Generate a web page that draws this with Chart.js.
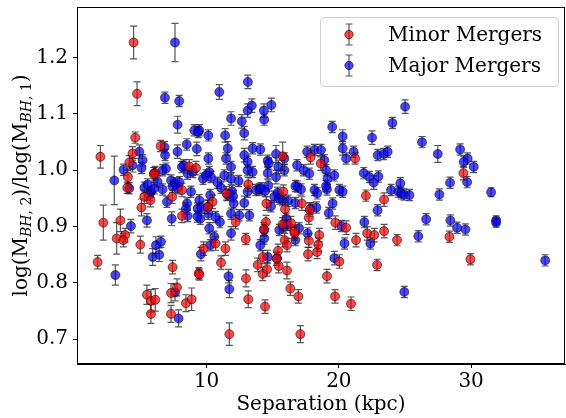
<!DOCTYPE html>
<html><head><meta charset="utf-8">
<script src="https://cdn.jsdelivr.net/npm/chart.js@4.4.1/dist/chart.umd.min.js"></script>
<style>html,body{margin:0;padding:0;background:#fff;overflow:hidden}</style>
</head><body>
<canvas id="c" width="566" height="418"></canvas>
<script>
const seriesNames = ['Minor Mergers', 'Major Mergers'];
const xTicks = [10, 20, 30];
const yTicks = [0.7, 0.8, 0.9, 1.0, 1.1, 1.2];
const xTitle = 'Separation (kpc)';

const minorSep = [4.48,4.74,4.6,1.97,4.4,4.16,4.05,4.0,2.19,3.48,
3.2,3.84,3.7,1.76,4.99,5.07,5.29,5.75,6.52,7.4,
5.49,5.79,6.12,5.79,7.31,7.31,7.43,7.76,8.44,8.87,
9.4,9.45,8.14,8.14,8.69,9.2,9.78,10.45,10.68,11.09,
11.42,11.5,11.72,12.2,12.96,12.98,13.15,13.15,13.86,14.24,
14.25,14.42,14.57,14.52,14.49,15.4,15.45,15.75,15.9,15.93,
16.08,16.08,16.33,15.75,15.8,16.66,16.94,17.09,17.2,17.73,
17.67,17.73,17.86,18.36,18.44,18.52,18.63,19.1,19.71,19.73,
20.04,20.55,20.92,21.23,21.3,22.05,22.14,22.68,22.89,23.42,
23.42,24.4,28.36,29.42,29.95,6.12,16.38,16.63,6.0,10.1,
14.33,15.3,17.8];
const minorRatio = [1.227,1.136,1.058,1.024,1.03,1.014,0.988,0.969,0.907,0.911,
0.879,0.885,0.876,0.837,0.868,0.934,0.953,0.947,1.043,0.953,
0.779,0.768,0.77,0.745,0.782,0.745,0.828,0.792,0.764,0.771,
0.817,0.815,0.919,0.965,1.007,1.004,0.861,0.944,0.87,0.836,
0.861,0.959,0.709,0.908,0.878,0.808,0.771,0.975,0.832,0.816,
0.846,0.758,0.824,0.941,0.908,0.857,0.83,0.904,0.876,0.931,
0.867,0.822,0.79,1.025,0.962,0.888,0.776,0.709,0.941,0.916,
0.851,0.875,1.023,0.855,0.868,0.885,1.012,0.812,0.776,0.907,
0.838,0.898,0.763,1.021,0.876,0.955,0.888,0.885,0.832,0.948,
0.892,0.876,0.882,0.995,0.842,0.995,0.906,0.891,0.993,0.935,
0.895,0.843,0.93];
const minorErr = [0.029,0.021,0.01,0.02,0.012,0.012,0.012,0.01,0.031,0.02,
0.028,0.012,0.012,0.012,0.015,0.015,0.012,0.012,0.01,0.012,
0.017,0.02,0.02,0.017,0.017,0.015,0.012,0.015,0.015,0.02,
0.01,0.01,0.012,0.012,0.012,0.012,0.012,0.012,0.012,0.012,
0.012,0.012,0.02,0.012,0.01,0.015,0.015,0.012,0.012,0.012,
0.012,0.012,0.012,0.012,0.012,0.012,0.012,0.012,0.012,0.012,
0.012,0.015,0.012,0.025,0.012,0.012,0.012,0.015,0.012,0.012,
0.012,0.012,0.012,0.012,0.012,0.012,0.012,0.012,0.012,0.012,
0.012,0.012,0.012,0.01,0.012,0.01,0.012,0.012,0.01,0.012,
0.012,0.01,0.01,0.012,0.01,0.012,0.012,0.012,0.012,0.012,
0.012,0.012,0.012];

const majorSep = [3.02,3.1,3.72,4.15,4.28,4.4,4.91,5.16,5.08,5.49,
5.29,5.54,5.8,5.67,6.04,6.29,6.04,6.67,6.93,6.82,
6.86,6.85,6.67,7.0,6.17,6.55,5.92,6.42,7.31,7.61,
7.43,7.81,7.36,7.61,7.93,7.81,7.8,7.95,8.13,8.27,
8.56,8.82,8.52,8.44,8.56,8.5,8.96,7.61,7.88,9.07,
9.45,9.37,9.26,9.32,9.45,9.52,9.3,9.59,9.73,9.95,
10.13,10.13,10.2,10.33,10.08,10.13,10.27,10.2,10.58,10.28,
9.57,10.82,10.68,11.01,10.96,11.09,11.34,11.47,11.6,11.4,
11.6,11.85,11.85,11.85,11.85,11.85,11.66,11.72,11.92,12.0,
12.05,12.47,12.42,12.66,12.85,12.85,12.85,13.12,13.1,13.42,
13.1,13.1,13.48,13.48,13.1,13.23,13.74,13.99,14.11,14.06,
14.33,14.35,14.9,14.42,14.62,14.7,14.62,14.66,14.87,14.36,
14.36,14.06,14.62,15.25,15.25,15.42,15.88,15.88,15.12,15.37,
15.5,15.75,15.5,15.82,16.13,15.32,16.03,16.16,16.71,16.84,
16.71,16.88,17.14,16.71,16.99,17.34,17.77,17.6,18.16,18.65,
18.9,19.03,19.15,19.66,18.16,18.36,17.85,18.3,17.64,19.1,
19.03,19.23,19.53,19.5,19.66,20.29,20.29,20.55,20.29,20.04,
20.19,20.43,21.12,21.88,21.93,22.31,22.63,22.99,22.51,22.94,
23.39,23.69,22.93,22.38,23.95,24.05,24.5,24.65,24.71,24.93,
25.34,25.01,24.95,26.29,27.48,29.17,29.74,29.44,30.2,29.7,
28.41,27.6,31.51,26.6,26.01,28.43,28.94,29.57,31.89,31.89,35.6];
const majorRatio = [0.982,0.814,1.001,0.968,0.901,1.009,1.033,1.018,1.004,0.911,
0.969,0.975,0.962,0.956,0.968,0.98,0.995,1.0,1.003,1.041,
1.027,1.129,0.966,0.944,0.867,0.873,0.846,0.85,0.982,0.977,
0.971,0.968,0.914,1.227,1.123,1.081,1.033,0.979,1.006,1.009,
0.994,0.962,0.941,0.932,0.919,1.046,0.997,0.783,0.737,1.071,
1.071,1.068,1.038,0.932,0.947,0.914,0.918,0.934,0.985,0.991,
1.062,1.021,0.997,0.988,0.935,0.923,0.956,0.897,0.882,0.867,
0.851,0.978,0.917,0.908,1.139,0.969,0.991,1.021,1.039,1.062,
0.956,1.092,1.006,0.985,0.923,0.888,0.812,0.789,0.963,0.954,
0.941,0.92,0.981,1.087,1.066,1.027,0.942,1.157,1.106,1.115,
1.015,1.0,0.997,1.039,0.962,0.92,0.965,0.966,0.968,1.037,
1.106,1.09,1.116,0.963,1.017,1.012,0.995,0.973,0.936,0.894,
0.879,0.867,0.846,1.029,0.988,1.006,1.021,1.0,0.953,0.96,
0.95,0.947,0.894,0.9,0.903,0.844,0.914,0.946,0.876,1.009,
0.972,0.971,0.966,0.942,0.897,1.0,0.994,1.033,1.036,1.036,
1.018,1.0,0.985,0.991,0.965,0.959,0.932,0.934,0.888,0.966,
0.972,0.924,0.941,1.077,0.844,1.06,1.039,1.021,0.962,0.965,
0.901,0.87,1.033,0.995,0.908,0.988,0.978,0.989,1.058,1.027,
1.029,1.033,0.929,0.87,0.965,1.084,0.962,0.977,0.959,0.957,
0.956,1.113,0.784,1.05,1.029,1.037,1.021,1.015,1.006,0.979,
0.978,0.957,0.961,0.913,0.883,0.911,0.898,0.895,0.911,0.907,0.84];
const majorErr = [0.043,0.018,0.01,0.01,0.012,0.012,0.012,0.01,0.01,0.012,
0.01,0.01,0.01,0.01,0.01,0.01,0.01,0.01,0.01,0.01,
0.01,0.01,0.01,0.01,0.015,0.01,0.015,0.012,0.01,0.01,
0.01,0.01,0.012,0.034,0.01,0.015,0.012,0.01,0.01,0.01,
0.01,0.01,0.01,0.01,0.01,0.01,0.01,0.015,0.015,0.01,
0.01,0.01,0.012,0.01,0.01,0.01,0.01,0.01,0.01,0.01,
0.01,0.01,0.01,0.01,0.012,0.01,0.01,0.01,0.01,0.01,
0.012,0.01,0.01,0.01,0.013,0.01,0.01,0.01,0.012,0.012,
0.01,0.012,0.01,0.01,0.01,0.012,0.012,0.015,0.01,0.01,
0.01,0.01,0.01,0.012,0.012,0.012,0.012,0.012,0.012,0.012,
0.01,0.01,0.01,0.01,0.01,0.01,0.01,0.01,0.01,0.01,
0.012,0.01,0.012,0.01,0.01,0.01,0.01,0.01,0.01,0.01,
0.01,0.01,0.012,0.015,0.012,0.012,0.01,0.01,0.01,0.01,
0.01,0.01,0.01,0.01,0.01,0.01,0.01,0.01,0.01,0.01,
0.01,0.01,0.01,0.01,0.01,0.01,0.01,0.01,0.01,0.01,
0.01,0.01,0.01,0.01,0.01,0.01,0.01,0.01,0.01,0.01,
0.01,0.01,0.01,0.01,0.012,0.012,0.012,0.01,0.01,0.01,
0.01,0.01,0.01,0.01,0.01,0.01,0.012,0.01,0.012,0.01,
0.01,0.01,0.01,0.01,0.01,0.01,0.01,0.01,0.01,0.01,
0.01,0.012,0.01,0.01,0.015,0.01,0.01,0.01,0.01,0.01,
0.01,0.01,0.008,0.01,0.01,0.01,0.01,0.01,0.008,0.008,0.01];

const SERIF = '"DejaVu Serif", serif';
const FS = 20;
const COLORS = ['rgba(255,0,0,0.72)', 'rgba(0,0,255,0.72)'];
const EDGE = 'rgba(0,0,0,0.55)';
const BARC = 'rgba(30,30,30,0.75)';

function pts(xs, ys) { return xs.map((x, i) => ({ x: x, y: ys[i] })); }

const errorBars = {
  id: 'errorBars',
  beforeDatasetDraw(chart, args) {
    const ds = chart.data.datasets[args.index];
    const xs = chart.scales.x, ys = chart.scales.y, ctx = chart.ctx, a = chart.chartArea;
    ctx.save();
    ctx.beginPath(); ctx.rect(a.left, a.top, a.right - a.left, a.bottom - a.top); ctx.clip();
    ctx.strokeStyle = BARC; ctx.lineWidth = 1.2;
    ds.data.forEach((p, i) => {
      const px = xs.getPixelForValue(p.x);
      const t = ys.getPixelForValue(p.y + ds.errs[i]);
      const b = ys.getPixelForValue(p.y - ds.errs[i]);
      ctx.beginPath();
      ctx.moveTo(px, t); ctx.lineTo(px, b);
      ctx.moveTo(px - 3.5, t); ctx.lineTo(px + 3.5, t);
      ctx.moveTo(px - 3.5, b); ctx.lineTo(px + 3.5, b);
      ctx.stroke();
    });
    ctx.restore();
  }
};

function drawRich(ctx, parts, cx, cy) {
  let total = 0;
  parts.forEach(p => { ctx.font = p.font; p.w = ctx.measureText(p.t).width; total += p.w; });
  let x = cx - total / 2;
  parts.forEach(p => { ctx.font = p.font; ctx.fillText(p.t, x, cy + p.dy); x += p.w; });
}

const decor = {
  id: 'decor',
  afterDraw(chart) {
    const ctx = chart.ctx, a = chart.chartArea;
    ctx.save();
    ctx.strokeStyle = '#000'; ctx.lineWidth = 1;
    ctx.strokeRect(a.left + 0.5, a.top + 0.5, a.right - a.left - 1, a.bottom - a.top - 1);
    ctx.fillStyle = '#000'; ctx.textBaseline = 'alphabetic'; ctx.textAlign = 'left';
    ctx.translate(20, (a.top + a.bottom) / 2);
    ctx.rotate(-Math.PI / 2);
    const n = FS + 'px ' + SERIF, si = 'italic 14px ' + SERIF, s = '14px ' + SERIF;
    drawRich(ctx, [
      { t: 'log(M', font: n, dy: 7 },
      { t: 'BH', font: si, dy: 11 },
      { t: ', 2', font: s, dy: 11 },
      { t: ')/log(M', font: n, dy: 7 },
      { t: 'BH', font: si, dy: 11 },
      { t: ', 1', font: s, dy: 11 },
      { t: ')', font: n, dy: 7 }
    ], 0, 0);
    ctx.restore();
    ctx.save();
    const lx = 320.5, ly = 17.5, lw = 238, lh = 69, r = 4;
    ctx.beginPath();
    ctx.moveTo(lx + r, ly); ctx.lineTo(lx + lw - r, ly); ctx.quadraticCurveTo(lx + lw, ly, lx + lw, ly + r);
    ctx.lineTo(lx + lw, ly + lh - r); ctx.quadraticCurveTo(lx + lw, ly + lh, lx + lw - r, ly + lh);
    ctx.lineTo(lx + r, ly + lh); ctx.quadraticCurveTo(lx, ly + lh, lx, ly + lh - r);
    ctx.lineTo(lx, ly + r); ctx.quadraticCurveTo(lx, ly, lx + r, ly); ctx.closePath();
    ctx.fillStyle = 'rgba(255,255,255,0.8)'; ctx.fill();
    ctx.strokeStyle = '#d0d0d0'; ctx.lineWidth = 1; ctx.stroke();
    const rows = [34.5, 65.5];
    seriesNames.forEach((name, i) => {
      const sx = 349, sy = rows[i];
      ctx.strokeStyle = BARC; ctx.lineWidth = 1.2;
      ctx.beginPath();
      ctx.moveTo(sx, sy - 10.5); ctx.lineTo(sx, sy + 10.5);
      ctx.moveTo(sx - 3.5, sy - 10.5); ctx.lineTo(sx + 3.5, sy - 10.5);
      ctx.moveTo(sx - 3.5, sy + 10.5); ctx.lineTo(sx + 3.5, sy + 10.5);
      ctx.stroke();
      ctx.beginPath(); ctx.arc(sx, sy, 4.2, 0, Math.PI * 2);
      ctx.fillStyle = COLORS[i]; ctx.fill();
      ctx.strokeStyle = EDGE; ctx.lineWidth = 1; ctx.stroke();
      ctx.fillStyle = '#000'; ctx.font = FS + 'px ' + SERIF;
      ctx.textBaseline = 'middle'; ctx.textAlign = 'left';
      ctx.fillText(name, 388, sy + 1);
    });
    ctx.restore();
  }
};

const mkSet = (i, xs, ys, es) => ({
  label: seriesNames[i],
  data: pts(xs, ys),
  errs: es,
  backgroundColor: COLORS[i],
  borderColor: EDGE,
  borderWidth: 1,
  pointRadius: 4.5,
  pointHoverRadius: 4.5
});

function noPad(s) { s.paddingTop = 0; s.paddingBottom = 0; s.paddingLeft = 0; s.paddingRight = 0; }

new Chart(document.getElementById('c'), {
  type: 'scatter',
  data: { datasets: [mkSet(0, minorSep, minorRatio, minorErr), mkSet(1, majorSep, majorRatio, majorErr)] },
  options: {
    responsive: false, animation: false, devicePixelRatio: 1,
    layout: { autoPadding: false, padding: { top: 7, right: 1, left: 0, bottom: 0 } },
    plugins: { legend: { display: false }, tooltip: { enabled: false } },
    scales: {
      x: {
        type: 'linear', min: 0.2, max: 37.1,
        afterBuildTicks: s => { s.ticks = xTicks.map(v => ({ value: v })); },
        afterFit: s => { s.height = 54; noPad(s); },
        grid: { drawOnChartArea: false, drawTicks: true, tickLength: 4, color: '#000', tickColor: '#000' },
        border: { display: true, color: '#000' },
        ticks: { color: '#000', font: { family: SERIF, size: FS }, padding: 2, maxRotation: 0,
                 callback: v => String(v) },
        title: { display: true, text: xTitle, color: '#000', font: { family: SERIF, size: FS }, padding: { top: 0, bottom: 1 } }
      },
      y: {
        type: 'linear', min: 0.656, max: 1.29,
        afterBuildTicks: s => { s.ticks = yTicks.map(v => ({ value: v })); },
        afterFit: s => { s.width = 77; noPad(s); },
        grid: { drawOnChartArea: false, drawTicks: true, tickLength: 4, color: '#000', tickColor: '#000' },
        border: { display: true, color: '#000' },
        ticks: { color: '#000', font: { family: SERIF, size: FS }, padding: 5,
                 callback: v => Number(v).toFixed(1) }
      }
    }
  },
  plugins: [errorBars, decor]
});
</script>
</body></html>
